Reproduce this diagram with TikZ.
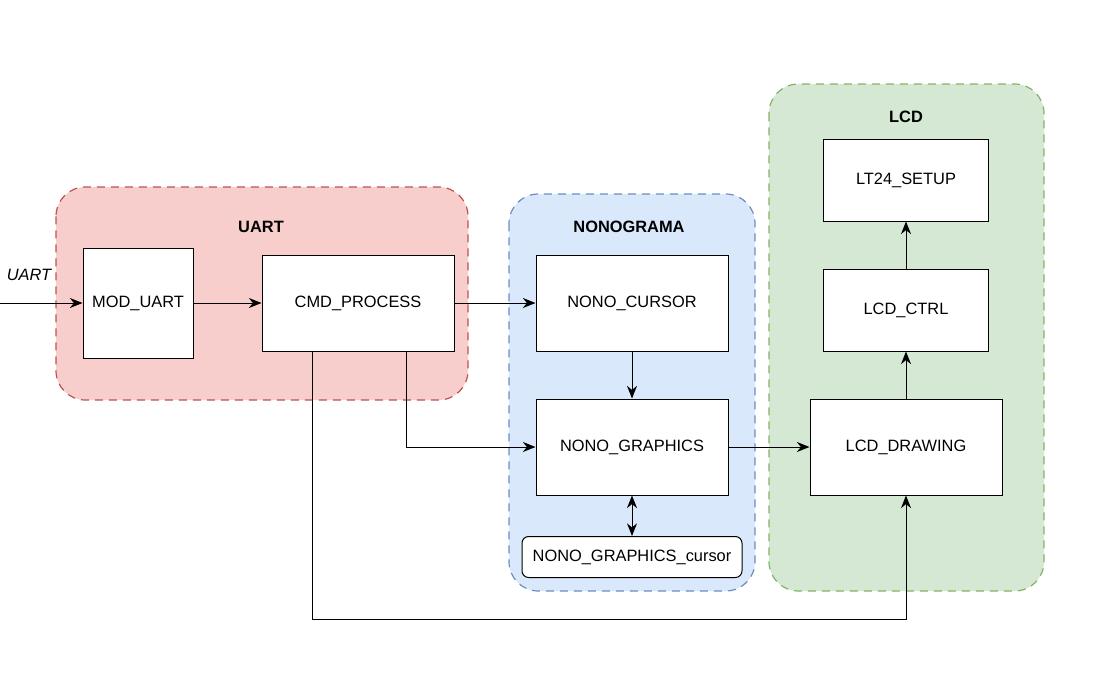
\documentclass[tikz,border=0pt]{standalone}
\usepackage{fontspec}
\setmainfont{Liberation Sans}
\usetikzlibrary{arrows.meta}

\definecolor{uartfill}{HTML}{F8CECC}
\definecolor{uartline}{HTML}{B85450}
\definecolor{nonofill}{HTML}{DAE8FC}
\definecolor{nonoline}{HTML}{6C8EBF}
\definecolor{lcdfill}{HTML}{D5E8D4}
\definecolor{lcdline}{HTML}{82B366}

\tikzset{
  blk/.style={draw,fill=white,line width=0.75pt,inner sep=0pt},
  grp/.style={line width=0.9pt,rounded corners=22pt,dash pattern=on 6pt off 4.5pt},
  grplbl/.style={font=\fontsize{12.3}{14}\selectfont\bfseries},
  lnk/.style={line width=0.75pt,-{Stealth[length=9.5pt,width=7.5pt]}}
}

\begin{document}
\begin{tikzpicture}[x=0.75pt,y=-0.75pt,font=\fontsize{12.3}{14}\selectfont]
\useasboundingbox (0,0) rectangle (1100,672);

% groups
\draw[grp,draw=uartline,fill=uartfill] (56,187) rectangle (468,400);
\draw[grp,draw=nonoline,fill=nonofill] (509,194) rectangle (755,591);
\draw[grp,draw=lcdline,fill=lcdfill] (769,84) rectangle (1044,591);

\node[grplbl] (uartlbl) at (261,227) {UART};
\node[grplbl] (nonolbl) at (629,227) {NONOGRAMA};
\node[grplbl] (lcdlbl) at (906,117) {LCD};

% blocks
\node[blk,minimum width=82.5pt,minimum height=82.5pt] (moduart) at (138,303) {MOD\_UART};
\node[blk,minimum width=144pt,minimum height=72pt] (cmdproc) at (358,303) {CMD\_PROCESS};
\node[blk,minimum width=144pt,minimum height=72pt] (nonocursor) at (632,303) {NONO\_CURSOR};
\node[blk,minimum width=144pt,minimum height=72pt] (nonographics) at (632,447) {NONO\_GRAPHICS};
\node[blk,rounded corners=5pt,minimum width=165pt,minimum height=30.75pt] (nonogcursor) at (632,557) {NONO\_GRAPHICS\_cursor};
\node[blk,minimum width=123.75pt,minimum height=61.5pt] (lt24) at (906,180) {LT24\_SETUP};
\node[blk,minimum width=123.75pt,minimum height=61.5pt] (lcdctrl) at (906,310) {LCD\_CTRL};
\node[blk,minimum width=144pt,minimum height=72pt] (lcddrawing) at (906,447) {LCD\_DRAWING};

% input
\coordinate (in) at (0,303);
\node[font=\fontsize{12.3}{14}\selectfont\itshape] (inlbl) at (29,275) {UART};

% connectors
\draw[lnk] (in) -- (moduart);
\draw[lnk] (moduart) -- (cmdproc);
\draw[lnk] (cmdproc) -- (nonocursor);
\draw[lnk] ([xshift=36pt]cmdproc.south) |- (nonographics);
\coordinate (low) at (312,619);
\draw[lnk] ([xshift=-34.5pt]cmdproc.south) -- (low) -| (lcddrawing.south);
\draw[lnk] (nonocursor) -- (nonographics);
\draw[lnk,{Stealth[length=9.5pt,width=7.5pt]}-{Stealth[length=9.5pt,width=7.5pt]}] (nonographics) -- (nonogcursor);
\draw[lnk] (nonographics) -- (lcddrawing);
\draw[lnk] (lcddrawing) -- (lcdctrl);
\draw[lnk] (lcdctrl) -- (lt24);

\end{tikzpicture}
\end{document}
